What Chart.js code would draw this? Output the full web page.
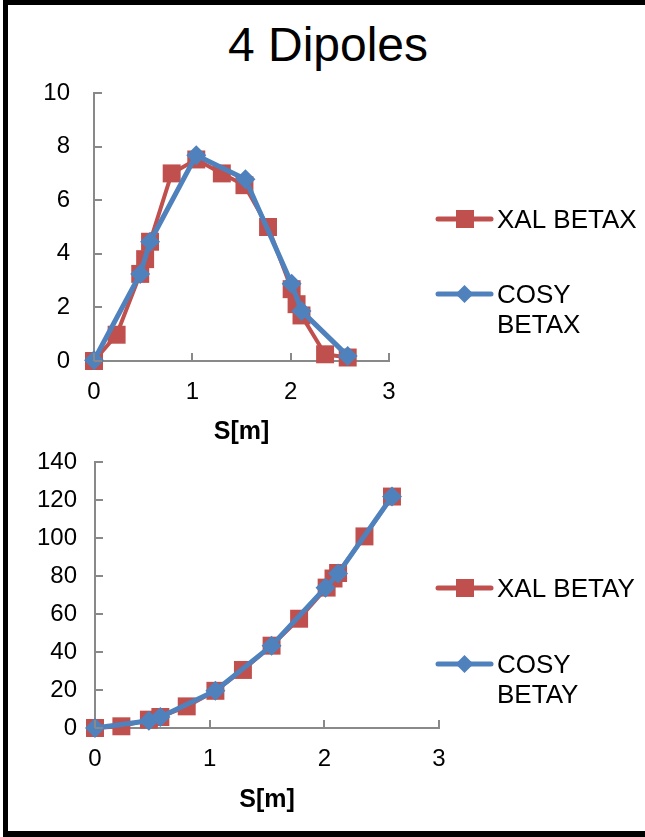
<!DOCTYPE html>
<html>
<head>
<meta charset="utf-8">
<script src="https://cdn.jsdelivr.net/npm/chart.js@4.4.1/dist/chart.umd.min.js"></script>
<style>
  html, body { margin: 0; padding: 0; background: #fff; overflow: hidden; }
  body { width: 645px; height: 837px; position: relative; font-family: "Liberation Sans", Arial, sans-serif; }
  #frame {
    position: absolute; left: 3px; top: 0; width: 700px; height: 826px;
    border: 5px solid #000; border-right: none; border-bottom-width: 6px;
  }
  #title {
    position: absolute; left: 0; top: 21px; width: 656px; text-align: center;
    font-size: 48px; line-height: 48px; color: #000;
  }
  canvas { position: absolute; left: 0; }
  #betaX { top: 0; }
  #betaY { top: 430px; }
</style>
</head>
<body>
<div id="frame"></div>
<div id="title">4 Dipoles</div>
<canvas id="betaX" width="645" height="450"></canvas>
<canvas id="betaY" width="645" height="407"></canvas>
<script>
// horizontal beta function
const sXalX = [0, 0.23, 0.47, 0.52, 0.57, 0.79, 1.04, 1.30, 1.53, 1.77, 2.01, 2.06, 2.11, 2.35, 2.58];
const xalBetax = [0, 0.98, 3.25, 3.8, 4.45, 7.0, 7.52, 7.0, 6.56, 5.0, 2.68, 2.12, 1.7, 0.25, 0.13];
const sCosyX = [0, 0.47, 0.57, 1.04, 1.54, 2.01, 2.11, 2.58];
const cosyBetax = [0.03, 3.25, 4.45, 7.68, 6.78, 2.88, 1.87, 0.19];

// vertical beta function
const sXalY = [0, 0.23, 0.47, 0.57, 0.8, 1.05, 1.29, 1.54, 1.78, 2.02, 2.08, 2.12, 2.35, 2.59];
const xalBetay = [0, 0.9, 4.4, 5.8, 11.4, 19.6, 30.6, 43.4, 57.6, 74.0, 78.8, 81.7, 101, 122];
const sCosyY = [0, 0.47, 0.57, 1.05, 1.54, 2.01, 2.12, 2.59];
const cosyBetay = [0, 3.8, 5.8, 19.6, 43.4, 73.9, 81.4, 122];

const red = '#C0504D';
const blue = '#4F81BD';
const axisGray = '#898989';
const fontFamily = '"Liberation Sans", Arial, sans-serif';

function toPoints(xs, ys) {
  return xs.map((x, i) => ({ x: x, y: ys[i] }));
}

// small tick marks pointing into the plot area
const innerTicks = {
  id: 'innerTicks',
  afterDatasetsDraw(chart) {
    const { ctx } = chart;
    const x = chart.scales.x, y = chart.scales.y;
    ctx.save();
    ctx.strokeStyle = axisGray;
    ctx.lineWidth = 2;
    ctx.beginPath();
    y.ticks.forEach(t => {
      const py = Math.round(y.getPixelForValue(t.value));
      ctx.moveTo(y.right, py);
      ctx.lineTo(y.right + 8, py);
    });
    x.ticks.forEach(t => {
      const px = Math.round(x.getPixelForValue(t.value));
      ctx.moveTo(px, x.top);
      ctx.lineTo(px, x.top - 8);
    });
    ctx.stroke();
    ctx.restore();
  }
};

// legend to the right of the plot, wrapping long labels
const sideLegend = {
  id: 'sideLegend',
  afterDraw(chart, args, opts) {
    const ctx = chart.ctx;
    ctx.save();
    ctx.font = '26px ' + fontFamily;
    chart.data.datasets.forEach((ds, i) => {
      const ly = opts.rows[i];
      ctx.strokeStyle = ds.borderColor;
      ctx.lineWidth = 5;
      ctx.lineCap = 'round';
      ctx.beginPath();
      ctx.moveTo(438, ly);
      ctx.lineTo(491, ly);
      ctx.stroke();

      ctx.fillStyle = ds.pointBackgroundColor;
      ctx.beginPath();
      if (ds.pointStyle === 'rect') {
        ctx.rect(456, ly - 9, 18, 18);
      } else {
        ctx.moveTo(464.5, ly - 9);
        ctx.lineTo(473.5, ly);
        ctx.lineTo(464.5, ly + 9);
        ctx.lineTo(455.5, ly);
        ctx.closePath();
      }
      ctx.fill();

      // wrap label words into the space left of the frame edge
      const words = ds.label.split(' ');
      const lines = [];
      let cur = '';
      words.forEach(w => {
        const test = cur ? cur + ' ' + w : w;
        if (cur && ctx.measureText(test).width > 148) {
          lines.push(cur);
          cur = w;
        } else {
          cur = test;
        }
      });
      lines.push(cur);
      ctx.fillStyle = '#000';
      ctx.textBaseline = 'alphabetic';
      lines.forEach((line, k) => ctx.fillText(line, 497, ly + 9 + k * 30));
    });
    ctx.restore();
  }
};

function makeChart(canvasId, cfg) {
  return new Chart(document.getElementById(canvasId), {
    type: 'scatter',
    data: {
      datasets: [{
        label: cfg.labels[0],
        data: toPoints(cfg.xalS, cfg.xalY),
        showLine: true,
        borderColor: red,
        borderWidth: 4,
        borderJoinStyle: 'round',
        pointStyle: 'rect',
        pointRadius: 12.7,
        pointHoverRadius: 12.7,
        pointBackgroundColor: red,
        pointBorderColor: red,
        pointBorderWidth: 0,
        clip: false,
        order: 2
      }, {
        label: cfg.labels[1],
        data: toPoints(cfg.cosyS, cfg.cosyY),
        showLine: true,
        borderColor: blue,
        borderWidth: 5,
        borderJoinStyle: 'round',
        pointStyle: 'rectRot',
        pointRadius: 10,
        pointHoverRadius: 10,
        pointBackgroundColor: blue,
        pointBorderColor: blue,
        pointBorderWidth: 0,
        clip: false,
        order: 1
      }]
    },
    options: {
      responsive: false,
      animation: false,
      events: [],
      layout: {
        padding: { left: 0, top: cfg.top, right: 645 - cfg.right, bottom: 0 }
      },
      scales: {
        x: {
          type: 'linear',
          min: 0,
          max: 3,
          afterFit: s => { s.height = cfg.xAxisHeight; },
          ticks: {
            stepSize: 1,
            padding: 17,
            color: '#000',
            font: { family: fontFamily, size: 24 }
          },
          grid: { display: false, drawTicks: false },
          border: { display: true, color: axisGray, width: 2 },
          title: {
            display: true,
            text: 'S[m]',
            color: '#000',
            font: { family: fontFamily, size: 25, weight: 'bold' },
            padding: { top: 0, bottom: cfg.titlePad }
          }
        },
        y: {
          min: 0,
          max: cfg.yMax,
          afterFit: s => { s.width = cfg.left; },
          ticks: {
            stepSize: cfg.yStep,
            padding: cfg.yPad,
            color: '#000',
            font: { family: fontFamily, size: 24 }
          },
          grid: { display: false, drawTicks: false },
          border: { display: true, color: axisGray, width: 2 }
        }
      },
      plugins: {
        legend: { display: false },
        tooltip: { enabled: false },
        sideLegend: { rows: cfg.legendRows }
      }
    },
    plugins: [innerTicks, sideLegend]
  });
}

makeChart('betaX', {
  labels: ['XAL BETAX', 'COSY BETAX'],
  xalS: sXalX, xalY: xalBetax,
  cosyS: sCosyX, cosyY: cosyBetax,
  yMax: 10, yStep: 2, yPad: 24,
  left: 94, right: 389, top: 93,
  xAxisHeight: 450 - 361,
  titlePad: 3,
  legendRows: [219, 294]
});

makeChart('betaY', {
  labels: ['XAL BETAY', 'COSY BETAY'],
  xalS: sXalY, xalY: xalBetay,
  cosyS: sCosyY, cosyY: cosyBetay,
  yMax: 140, yStep: 20, yPad: 18,
  left: 95, right: 439, top: 32,
  xAxisHeight: 407 - 298,
  titlePad: 22,
  legendRows: [158, 234]
});
</script>
</body>
</html>
